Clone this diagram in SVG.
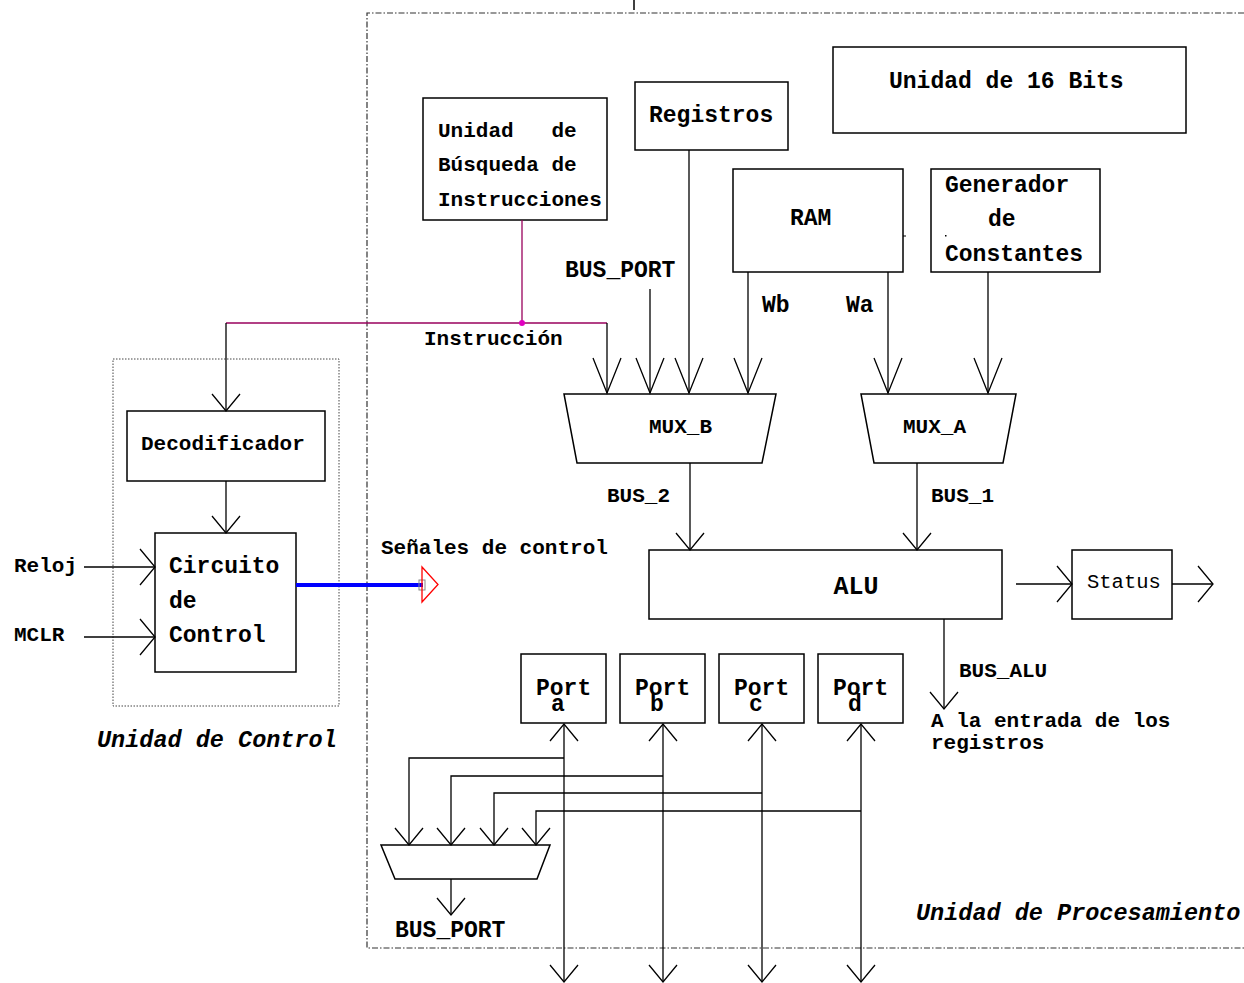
<svg xmlns="http://www.w3.org/2000/svg" width="1244" height="983" viewBox="0 0 1244 983">
  <style>
    .box { fill: none; stroke: #000; stroke-width: 1.5; }
    .ln { fill: none; stroke: #000; stroke-width: 1.3; }
    .bus { fill: none; stroke: #99005c; stroke-width: 1.3; }
    .t { font-family: "Liberation Mono", "Courier New", monospace; font-weight: bold; fill: #000; }
    .s21 { font-size: 21px; }
    .s23 { font-size: 23px; }
    .it { font-style: italic; font-size: 23.5px; }
    .frame { fill: none; stroke: #333; stroke-width: 1.2; stroke-dasharray: 6 2 1.5 2; }
    .dotted { fill: none; stroke: #444; stroke-width: 1; stroke-dasharray: 1.5 1.5; }
  </style>
  <defs>
    <marker id="vShort" markerUnits="userSpaceOnUse" markerWidth="40" markerHeight="40" refX="0" refY="0" viewBox="-20 -20 40 40" orient="auto-start-reverse" overflow="visible">
      <path d="M-17,-14 L0,0 L-17,14" fill="none" stroke="#000" stroke-width="1.3"/>
    </marker>
    <marker id="vTall" markerUnits="userSpaceOnUse" markerWidth="40" markerHeight="40" refX="0" refY="0" viewBox="-20 -20 40 40" orient="auto" overflow="visible">
      <path d="M-35,-14 L0,0 L-35,14" fill="none" stroke="#000" stroke-width="1.3"/>
    </marker>
    <marker id="vSide" markerUnits="userSpaceOnUse" markerWidth="40" markerHeight="40" refX="0" refY="0" viewBox="-20 -20 40 40" orient="auto" overflow="visible">
      <path d="M-15,-18 L0,0 L-15,18" fill="none" stroke="#000" stroke-width="1.3"/>
    </marker>
  </defs>

  <rect width="1244" height="983" fill="#fff"/>

  <!-- boundary of the processing unit (dash-dot) -->
  <path class="frame" d="M1244,13 H367 V948 H1244"/>
  <!-- small mark at the top edge -->
  <line x1="634" y1="0" x2="634" y2="10" stroke="#000" stroke-width="1.5"/>

  <!-- control unit boundary (dotted) -->
  <g id="control-unit">
    <rect class="dotted" x="113" y="359" width="226" height="347"/>
    <text class="t it" x="97" y="747">Unidad de Control</text>
  </g>

  <g id="unidad-16-bits">
    <rect class="box" x="833" y="47" width="353" height="86"/>
    <text class="t s23" x="889" y="88">Unidad de 16 Bits</text>
  </g>

  <g id="busqueda">
    <rect class="box" x="423" y="98" width="184" height="122"/>
    <text class="t s21" x="438" y="137" xml:space="preserve">Unidad   de</text>
    <text class="t s21" x="438" y="171">Búsqueda de</text>
    <text class="t s21" x="438" y="206">Instrucciones</text>
  </g>

  <g id="registros">
    <rect class="box" x="635" y="82" width="153" height="68"/>
    <text class="t s23" x="649" y="122">Registros</text>
  </g>

  <g id="ram">
    <rect class="box" x="733" y="169" width="170" height="103"/>
    <text class="t s23" x="790" y="225">RAM</text>
    <line x1="903" y1="236" x2="906" y2="236" stroke="#000" stroke-width="1"/>
  </g>

  <g id="generador">
    <rect class="box" x="931" y="169" width="169" height="103"/>
    <text class="t s23" x="945" y="192">Generador</text>
    <text class="t s23" x="988" y="226">de</text>
    <text class="t s23" x="945" y="261">Constantes</text>
    <rect x="945" y="235" width="1.5" height="1.5" fill="#000"/>
  </g>

  <g id="mux-b">
    <path class="box" d="M564,394 H776 L762,463 H577 Z"/>
    <text class="t s21" x="649" y="433">MUX_B</text>
  </g>

  <g id="mux-a">
    <path class="box" d="M861,394 H1016 L1003,463 H874 Z"/>
    <text class="t s21" x="903" y="433">MUX_A</text>
  </g>

  <g id="alu">
    <rect class="box" x="649" y="550" width="353" height="69"/>
    <text class="t" font-size="25" x="856" y="594" text-anchor="middle">ALU</text>
  </g>

  <g id="status">
    <rect class="box" x="1072" y="550" width="100" height="69"/>
    <text x="1087" y="588" font-family="Liberation Mono, Courier New, monospace" font-size="20.5" fill="#000">Status</text>
  </g>

  <g id="decodificador">
    <rect class="box" x="127" y="411" width="198" height="70"/>
    <text class="t s21" x="141" y="450">Decodificador</text>
  </g>

  <g id="circuito-control">
    <rect class="box" x="155" y="533" width="141" height="139"/>
    <text class="t s23" x="169" y="573">Circuito</text>
    <text class="t s23" x="169" y="608">de</text>
    <text class="t s23" x="169" y="642">Control</text>
  </g>

  <g id="port-a">
    <rect class="box" x="521" y="654" width="85" height="69"/>
    <text class="t s23" x="536" y="695">Port</text>
    <text class="t s23" x="551" y="711">a</text>
  </g>
  <g id="port-b">
    <rect class="box" x="620" y="654" width="85" height="69"/>
    <text class="t s23" x="635" y="695">Port</text>
    <text class="t s23" x="650" y="711">b</text>
  </g>
  <g id="port-c">
    <rect class="box" x="719" y="654" width="85" height="69"/>
    <text class="t s23" x="734" y="695">Port</text>
    <text class="t s23" x="749" y="711">c</text>
  </g>
  <g id="port-d">
    <rect class="box" x="818" y="654" width="85" height="69"/>
    <text class="t s23" x="833" y="695">Port</text>
    <text class="t s23" x="848" y="711">d</text>
  </g>

  <g id="mux-port">
    <path class="box" d="M381,845 H550 L537,879 H395 Z"/>
  </g>

  <!-- connectors -->
  <g id="connectors">
    <!-- instruction bus -->
    <path class="bus" d="M522,220 V323"/>
    <path class="bus" d="M226,323 H607"/>
    <circle cx="522" cy="323" r="3" fill="#e000c0"/>
    <path class="ln" d="M607,323 V393" marker-end="url(#vTall)"/>
    <path class="ln" d="M226,323 V411" marker-end="url(#vShort)"/>

    <!-- inputs of MUX_B / MUX_A -->
    <path class="ln" d="M650,289 V393" marker-end="url(#vTall)"/>
    <path class="ln" d="M689,150 V393" marker-end="url(#vTall)"/>
    <path class="ln" d="M748,272 V393" marker-end="url(#vTall)"/>
    <path class="ln" d="M888,272 V393" marker-end="url(#vTall)"/>
    <path class="ln" d="M988,272 V393" marker-end="url(#vTall)"/>

    <!-- MUX outputs to the ALU -->
    <path class="ln" d="M690,463 V550" marker-end="url(#vShort)"/>
    <path class="ln" d="M917,463 V550" marker-end="url(#vShort)"/>

    <!-- ALU / Status -->
    <path class="ln" d="M1016,584 H1072" marker-end="url(#vSide)"/>
    <path class="ln" d="M1172,584 H1213" marker-end="url(#vSide)"/>
    <path class="ln" d="M944,619 V709" marker-end="url(#vShort)"/>

    <!-- control unit -->
    <path class="ln" d="M226,481 V533" marker-end="url(#vShort)"/>
    <path class="ln" d="M84,567 H155" marker-end="url(#vSide)"/>
    <path class="ln" d="M84,637 H155" marker-end="url(#vSide)"/>
    <line x1="296" y1="585" x2="423" y2="585" stroke="#0000ff" stroke-width="4"/>
    <rect x="419" y="580" width="6" height="10" fill="none" stroke="#888" stroke-width="1"/>
    <path d="M422,567 L438,584.5 L422,602 Z" fill="none" stroke="#ff0000" stroke-width="1.3"/>

    <!-- ports (bidirectional) -->
    <path class="ln" d="M564,982 V724" marker-start="url(#vShort)" marker-end="url(#vShort)"/>
    <path class="ln" d="M663,982 V724" marker-start="url(#vShort)" marker-end="url(#vShort)"/>
    <path class="ln" d="M762,982 V724" marker-start="url(#vShort)" marker-end="url(#vShort)"/>
    <path class="ln" d="M861,982 V724" marker-start="url(#vShort)" marker-end="url(#vShort)"/>

    <!-- ports into the port multiplexer -->
    <path class="ln" d="M564,758 H409 V845" marker-end="url(#vShort)"/>
    <path class="ln" d="M663,776 H451 V845" marker-end="url(#vShort)"/>
    <path class="ln" d="M762,793 H494 V845" marker-end="url(#vShort)"/>
    <path class="ln" d="M861,811 H536 V845" marker-end="url(#vShort)"/>
    <path class="ln" d="M451,879 V915" marker-end="url(#vShort)"/>
  </g>

  <!-- signal labels -->
  <g id="labels">
    <text class="t s23" x="565" y="277">BUS_PORT</text>
    <text class="t s23" x="762" y="312">Wb</text>
    <text class="t s23" x="846" y="312">Wa</text>
    <text class="t s21" x="424" y="345">Instrucción</text>
    <text class="t s21" x="607" y="502">BUS_2</text>
    <text class="t s21" x="931" y="502">BUS_1</text>
    <text class="t s21" x="381" y="554">Señales de control</text>
    <text class="t s21" x="14" y="572">Reloj</text>
    <text class="t s21" x="14" y="641">MCLR</text>
    <text class="t s21" x="959" y="677">BUS_ALU</text>
    <text class="t s21" x="931" y="727">A la entrada de los</text>
    <text class="t s21" x="931" y="749">registros</text>
    <text class="t s23" x="395" y="937">BUS_PORT</text>
    <text class="t it" x="916" y="920">Unidad de Procesamiento</text>
  </g>
</svg>
